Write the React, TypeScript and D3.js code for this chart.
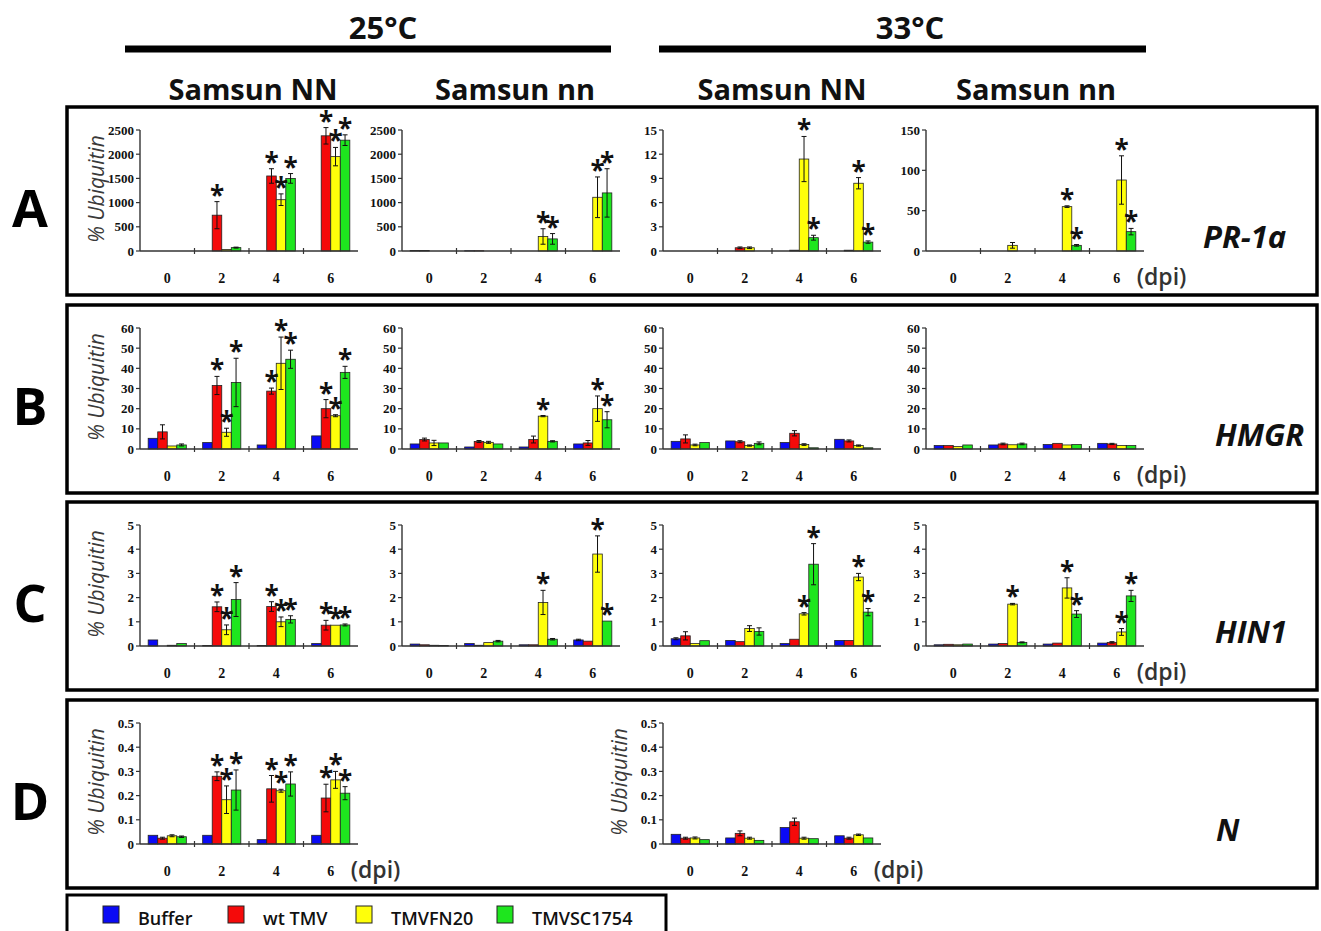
import React from 'react';
import * as d3 from 'd3';

// categories / series
const DPI = ['0', '2', '4', '6'];
const SERIES = ['Buffer', 'wt TMV', 'TMVFN20', 'TMVSC1754'];
const COLORS = ['#0a0af5', '#f50a0a', '#ffff0a', '#1ee61e'];
const ROW_LETTERS = ['A', 'B', 'C', 'D'];
const GENES = ['PR-1a', 'HMGR', 'HIN1', 'N'];
const TEMPS = ['25°C', '33°C'];
const CULTIVARS = ['Samsun NN', 'Samsun nn', 'Samsun NN', 'Samsun nn'];

// each array: rows = Buffer, wt TMV, TMVFN20, TMVSC1754 ; columns = 0, 2, 4, 6 dpi
// A: PR-1a
const pr1aNN25Mean = [[0, 0, 0, 0], [0, 740, 1550, 2380], [0, 30, 1060, 1950], [0, 70, 1500, 2290]];
const pr1aNN25Err = [[0, 0, 0, 0], [0, 280, 150, 170], [0, 0, 120, 190], [0, 10, 100, 110]];
const pr1aNN25Star = [[0, 0, 0, 0], [0, 1, 1, 1], [0, 0, 1, 1], [0, 0, 1, 1]];

const pr1ann25Mean = [[10, 5, 0, 0], [10, 5, 0, 0], [0, 0, 300, 1110], [0, 0, 250, 1200]];
const pr1ann25Err = [[0, 0, 0, 0], [0, 0, 0, 0], [0, 0, 160, 420], [0, 0, 110, 500]];
const pr1ann25Star = [[0, 0, 0, 0], [0, 0, 0, 0], [0, 0, 1, 1], [0, 0, 1, 1]];

const pr1aNN33Mean = [[0, 0, 0, 0], [0, 0.4, 0.1, 0.1], [0, 0.4, 11.4, 8.4], [0, 0, 1.65, 1.1]];
const pr1aNN33Err = [[0, 0, 0, 0], [0, 0.1, 0, 0], [0, 0.1, 2.8, 0.7], [0, 0, 0.3, 0.15]];
const pr1aNN33Star = [[0, 0, 0, 0], [0, 0, 0, 0], [0, 0, 1, 1], [0, 0, 1, 1]];

const pr1ann33Mean = [[0, 0, 0, 0], [0, 0, 0, 0], [0, 7, 55, 88], [0, 0, 7, 24]];
const pr1ann33Err = [[0, 0, 0, 0], [0, 0, 0, 0], [0, 3.5, 1, 30], [0, 0, 1, 4]];
const pr1ann33Star = [[0, 0, 0, 0], [0, 0, 0, 0], [0, 0, 1, 1], [0, 0, 1, 1]];

// B: HMGR
const hmgrNN25Mean = [[5.3, 3.2, 2, 6.5], [8.5, 31.5, 28.7, 20], [1.5, 8.3, 42.5, 16.5], [2, 33, 44.5, 38]];
const hmgrNN25Err = [[0, 0, 0, 0], [3.5, 4.5, 1.5, 4.5], [0, 2, 13, 0.5], [0.5, 12, 4.5, 3]];
const hmgrNN25Star = [[0, 0, 0, 0], [0, 1, 1, 1], [0, 1, 1, 1], [0, 1, 1, 1]];

const hmgrnn25Mean = [[2.5, 1, 1, 2.5], [4.7, 3.7, 4.7, 3], [3, 3.3, 16.3, 20], [3, 2.5, 3.8, 14.5]];
const hmgrnn25Err = [[0, 0, 0, 0], [0.7, 0.5, 1.7, 1.2], [1.3, 0.5, 0.3, 6.3], [0, 0, 0.3, 4]];
const hmgrnn25Star = [[0, 0, 0, 0], [0, 0, 0, 0], [0, 0, 1, 1], [0, 0, 0, 1]];

const hmgrNN33Mean = [[3.8, 4, 3.2, 4.8], [5, 3.6, 7.8, 4], [2, 1.7, 2.2, 1.7], [3.2, 2.8, 0.6, 0.6]];
const hmgrNN33Err = [[0, 0, 0, 0], [2, 0.5, 1.3, 0.5], [0.4, 0.3, 0.4, 0.3], [0, 0.7, 0, 0]];
const hmgrNN33Star = [[0, 0, 0, 0], [0, 0, 0, 0], [0, 0, 0, 0], [0, 0, 0, 0]];

const hmgrnn33Mean = [[1.7, 2, 2.2, 2.8], [1.7, 2.5, 2.8, 2.5], [1.2, 2.1, 2, 1.7], [2, 2.5, 2.2, 1.7]];
const hmgrnn33Err = [[0, 0, 0, 0], [0, 0.4, 0, 0.3], [0, 0, 0, 0], [0, 0.4, 0, 0]];
const hmgrnn33Star = [[0, 0, 0, 0], [0, 0, 0, 0], [0, 0, 0, 0], [0, 0, 0, 0]];

// C: HIN1
const hin1NN25Mean = [[0.25, 0.02, 0.02, 0.1], [0, 1.62, 1.63, 0.86], [0.03, 0.67, 1.0, 0.86], [0.1, 1.92, 1.1, 0.87]];
const hin1NN25Err = [[0, 0, 0, 0], [0, 0.2, 0.2, 0.2], [0, 0.2, 0.2, 0], [0, 0.7, 0.15, 0.04]];
const hin1NN25Star = [[0, 0, 0, 0], [0, 1, 1, 1], [0, 1, 1, 1], [0, 1, 1, 1]];

const hin1nn25Mean = [[0.08, 0.1, 0.05, 0.25], [0.05, 0.03, 0.05, 0.2], [0.03, 0.14, 1.8, 3.8], [0.02, 0.2, 0.28, 1.03]];
const hin1nn25Err = [[0, 0, 0, 0.03], [0, 0, 0, 0], [0, 0, 0.5, 0.75], [0, 0.03, 0.03, 0]];
const hin1nn25Star = [[0, 0, 0, 0], [0, 0, 0, 0], [0, 0, 1, 1], [0, 0, 0, 1]];

const hin1NN33Mean = [[0.3, 0.23, 0.1, 0.23], [0.42, 0.18, 0.28, 0.23], [0.1, 0.72, 1.33, 2.85], [0.22, 0.6, 3.38, 1.4]];
const hin1NN33Err = [[0.04, 0, 0, 0], [0.17, 0, 0, 0], [0, 0.12, 0.05, 0.15], [0, 0.15, 0.85, 0.15]];
const hin1NN33Star = [[0, 0, 0, 0], [0, 0, 0, 0], [0, 0, 1, 1], [0, 0, 1, 1]];

const hin1nn33Mean = [[0.05, 0.08, 0.08, 0.12], [0.07, 0.1, 0.12, 0.15], [0.05, 1.73, 2.4, 0.58], [0.08, 0.15, 1.32, 2.07]];
const hin1nn33Err = [[0, 0, 0, 0], [0, 0, 0, 0.03], [0, 0.03, 0.42, 0.14], [0, 0.02, 0.14, 0.23]];
const hin1nn33Star = [[0, 0, 0, 0], [0, 0, 0, 0], [0, 1, 1, 1], [0, 0, 1, 1]];

// D: N
const nNN25Mean = [[0.036, 0.036, 0.018, 0.036], [0.024, 0.28, 0.228, 0.19], [0.034, 0.183, 0.22, 0.265], [0.03, 0.223, 0.248, 0.21]];
const nNN25Err = [[0, 0, 0, 0], [0.004, 0.018, 0.055, 0.057], [0.004, 0.057, 0.006, 0.035], [0.003, 0.083, 0.05, 0.027]];
const nNN25Star = [[0, 0, 0, 0], [0, 1, 1, 1], [0, 1, 1, 1], [0, 1, 1, 1]];

const nNN33Mean = [[0.04, 0.025, 0.068, 0.034], [0.024, 0.044, 0.092, 0.024], [0.025, 0.024, 0.024, 0.038], [0.018, 0.015, 0.022, 0.025]];
const nNN33Err = [[0, 0, 0, 0], [0.004, 0.01, 0.015, 0.004], [0.004, 0.004, 0.004, 0.003], [0, 0, 0, 0]];
const nNN33Star = [[0, 0, 0, 0], [0, 0, 0, 0], [0, 0, 0, 0], [0, 0, 0, 0]];

// layout
const W = 1321;
const H = 931;
const ROW_TOP = [107, 305, 502, 700];
const COL_X = [140, 402, 663, 926];
const AXIS_W = 218;
const SANS = '"Open Sans", "DejaVu Sans", sans-serif';
const SERIF = '"Liberation Serif", "Times New Roman", serif';

const PANELS = [
  { row: 0, col: 0, max: 2500, step: 500, mean: pr1aNN25Mean, err: pr1aNN25Err, star: pr1aNN25Star, yLabel: true, dpi: false },
  { row: 0, col: 1, max: 2500, step: 500, mean: pr1ann25Mean, err: pr1ann25Err, star: pr1ann25Star, yLabel: false, dpi: false },
  { row: 0, col: 2, max: 15, step: 3, mean: pr1aNN33Mean, err: pr1aNN33Err, star: pr1aNN33Star, yLabel: false, dpi: false },
  { row: 0, col: 3, max: 150, step: 50, mean: pr1ann33Mean, err: pr1ann33Err, star: pr1ann33Star, yLabel: false, dpi: true },
  { row: 1, col: 0, max: 60, step: 10, mean: hmgrNN25Mean, err: hmgrNN25Err, star: hmgrNN25Star, yLabel: true, dpi: false },
  { row: 1, col: 1, max: 60, step: 10, mean: hmgrnn25Mean, err: hmgrnn25Err, star: hmgrnn25Star, yLabel: false, dpi: false },
  { row: 1, col: 2, max: 60, step: 10, mean: hmgrNN33Mean, err: hmgrNN33Err, star: hmgrNN33Star, yLabel: false, dpi: false },
  { row: 1, col: 3, max: 60, step: 10, mean: hmgrnn33Mean, err: hmgrnn33Err, star: hmgrnn33Star, yLabel: false, dpi: true },
  { row: 2, col: 0, max: 5, step: 1, mean: hin1NN25Mean, err: hin1NN25Err, star: hin1NN25Star, yLabel: true, dpi: false },
  { row: 2, col: 1, max: 5, step: 1, mean: hin1nn25Mean, err: hin1nn25Err, star: hin1nn25Star, yLabel: false, dpi: false },
  { row: 2, col: 2, max: 5, step: 1, mean: hin1NN33Mean, err: hin1NN33Err, star: hin1NN33Star, yLabel: false, dpi: false },
  { row: 2, col: 3, max: 5, step: 1, mean: hin1nn33Mean, err: hin1nn33Err, star: hin1nn33Star, yLabel: false, dpi: true },
  { row: 3, col: 0, max: 0.5, step: 0.1, mean: nNN25Mean, err: nNN25Err, star: nNN25Star, yLabel: true, dpi: true },
  { row: 3, col: 2, max: 0.5, step: 0.1, mean: nNN33Mean, err: nNN33Err, star: nNN33Star, yLabel: true, dpi: true },
];

type PanelDef = (typeof PANELS)[number];

const Panel = ({ p }: { p: PanelDef }) => {
  const top = ROW_TOP[p.row];
  const x0 = COL_X[p.col];
  const y = d3.scaleLinear().domain([0, p.max]).range([top + 144, top + 23]);
  const x = d3.scaleBand().domain(DPI).range([x0, x0 + AXIS_W]).paddingInner(0.3).paddingOuter(0.15);
  const xs = d3.scaleBand().domain(SERIES).range([0, x.bandwidth()]);
  const ticks = d3.range(0, p.max + p.step / 2, p.step);
  const bw = xs.bandwidth();

  return (
    <g>
      {/* bars */}
      {SERIES.map((s, si) =>
        DPI.map((d, di) => {
          const v = p.mean[si][di];
          if (v <= 0) return null;
          const bx = x(d)! + xs(s)!;
          return (
            <rect key={`b${si}${di}`} x={bx} y={y(v)} width={bw} height={y(0) - y(v)}
              fill={COLORS[si]} stroke="#222" strokeWidth={0.8} />
          );
        })
      )}
      {/* error bars + asterisks */}
      {SERIES.map((s, si) =>
        DPI.map((d, di) => {
          const v = p.mean[si][di];
          const e = p.err[si][di];
          const cx = x(d)! + xs(s)! + bw / 2;
          return (
            <g key={`e${si}${di}`}>
              {e > 0 && (
                <g stroke="#111" strokeWidth={1}>
                  <line x1={cx} x2={cx} y1={y(Math.max(0, v - e))} y2={y(v + e)} />
                  <line x1={cx - 2.5} x2={cx + 2.5} y1={y(v + e)} y2={y(v + e)} />
                  <line x1={cx - 2.5} x2={cx + 2.5} y1={y(Math.max(0, v - e))} y2={y(Math.max(0, v - e))} />
                </g>
              )}
              {p.star[si][di] ? (
                <text x={cx} y={y(v + e) + 3} textAnchor="middle" fontFamily={SANS}
                  fontWeight={700} fontSize={26} fill="#111">*</text>
              ) : null}
            </g>
          );
        })
      )}
      {/* y axis */}
      <line x1={x0} x2={x0} y1={y(0)} y2={y(p.max)} stroke="#333" strokeWidth={1.4} />
      {ticks.map((t) => (
        <g key={`t${t}`}>
          <line x1={x0 - 4} x2={x0} y1={y(t)} y2={y(t)} stroke="#333" strokeWidth={1.2} />
          <text x={x0 - 6} y={y(t)} dy="0.35em" textAnchor="end" fontFamily={SERIF}
            fontWeight={700} fontSize={13} fill="#111">{String(+t.toFixed(4))}</text>
        </g>
      ))}
      {/* x axis */}
      <line x1={x0} x2={x0 + AXIS_W} y1={y(0)} y2={y(0)} stroke="#333" strokeWidth={1.4} />
      {[1, 2, 3].map((k) => (
        <line key={`xt${k}`} x1={x0 + k * x.step()} x2={x0 + k * x.step()} y1={y(0) - 3} y2={y(0) + 3}
          stroke="#333" strokeWidth={1.2} />
      ))}
      {DPI.map((d) => (
        <text key={`c${d}`} x={x(d)! + x.bandwidth() / 2} y={top + 176} textAnchor="middle"
          fontFamily={SERIF} fontWeight={700} fontSize={14} fill="#111">{d}</text>
      ))}
      {p.yLabel && (
        <text transform={`translate(${x0 - 36},${top + 82}) rotate(-90)`} textAnchor="middle"
          fontFamily={SANS} fontStyle="italic" fontSize={21} fill="#3a3a3a">% Ubiquitin</text>
      )}
      {p.dpi && (
        <text x={x(DPI[3])! + x.bandwidth() / 2 + 20} y={top + 178} fontFamily={SANS}
          fontWeight={600} fontSize={23} fill="#333">(dpi)</text>
      )}
    </g>
  );
};

const GENE_X = [1203, 1215, 1215, 1216];
const TEMP_CX = [383, 910];
const TEMP_LINE = [[125, 611], [659, 1146]];
const CULT_CX = [253, 515, 782, 1036];
const LEGEND_SWATCH_X = [103, 228, 356, 497];

export default function App() {
  return (
    <div style={{ position: 'absolute', left: 0, top: 0, background: '#fff' }}>
      <svg width={W} height={H} style={{ display: 'block' }}>
        <rect width={W} height={H} fill="#fff" />
        {TEMPS.map((t, i) => (
          <g key={t}>
            <text x={TEMP_CX[i]} y={39} textAnchor="middle" fontFamily={SANS} fontWeight={700}
              fontSize={31} fill="#111">{t}</text>
            <line x1={TEMP_LINE[i][0]} x2={TEMP_LINE[i][1]} y1={49} y2={49} stroke="#000" strokeWidth={7} />
          </g>
        ))}
        {CULTIVARS.map((c, i) => (
          <text key={`cv${i}`} x={CULT_CX[i]} y={100} textAnchor="middle" fontFamily={SANS}
            fontWeight={700} fontSize={29} fill="#111">{c}</text>
        ))}
        {ROW_TOP.map((t, i) => (
          <g key={`row${i}`}>
            <rect x={67} y={t} width={1250} height={188} fill="none" stroke="#000" strokeWidth={3.5} />
            <text x={30} y={t + 120} textAnchor="middle" fontFamily={SANS} fontWeight={700}
              fontSize={52} fill="#000">{ROW_LETTERS[i]}</text>
            <text x={GENE_X[i]} y={t + 141} fontFamily={SANS} fontWeight={700} fontStyle="italic"
              fontSize={31} fill="#111">{GENES[i]}</text>
          </g>
        ))}
        {PANELS.map((p, i) => <Panel key={i} p={p} />)}
        {/* legend */}
        <rect x={67} y={895} width={599} height={50} fill="none" stroke="#000" strokeWidth={3} />
        {SERIES.map((s, i) => (
          <g key={`lg${i}`}>
            <rect x={LEGEND_SWATCH_X[i]} y={906} width={16} height={17} fill={COLORS[i]} stroke="#222" strokeWidth={1} />
            <text x={LEGEND_SWATCH_X[i] + 35} y={925} fontFamily={SANS} fontWeight={600}
              fontSize={18} fill="#111">{s}</text>
          </g>
        ))}
      </svg>
    </div>
  );
}
